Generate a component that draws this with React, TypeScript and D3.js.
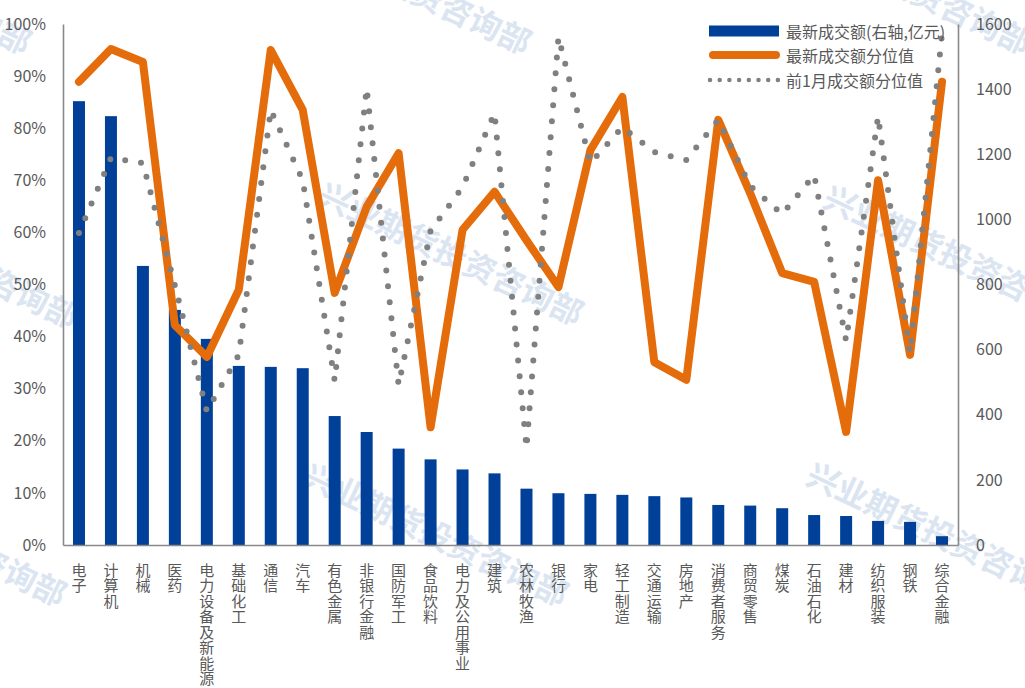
import { useRef, useEffect } from "react";
import * as d3 from "d3";

// 行业成交额数据
const categories = [
  "电子", "计算机", "机械", "医药", "电力设备及新能源", "基础化工", "通信", "汽车",
  "有色金属", "非银行金融", "国防军工", "食品饮料", "电力及公用事业", "建筑", "农林牧渔",
  "银行", "家电", "轻工制造", "交通运输", "房地产", "消费者服务", "商贸零售", "煤炭",
  "石油石化", "建材", "纺织服装", "钢铁", "综合金融",
];
// 最新成交额 (亿元, right axis)
const turnover = [
  1363, 1317, 857, 722, 633, 550, 547, 543, 396, 347, 296, 263, 232, 220, 173,
  159, 157, 154, 150, 146, 123, 121, 113, 92, 89, 74, 71, 27,
];
// 最新成交额分位值 (%)
const percentile = [
  88.9, 95.2, 92.7, 42.2, 36.1, 49.0, 95.0, 83.5, 48.4, 64.9, 75.2, 22.6, 60.5, 67.8,
  58.5, 49.5, 75.8, 86.0, 35.1, 31.7, 81.6, 67.5, 52.2, 50.5, 21.7, 70.0, 36.5, 88.9,
];
// 前1月成交额分位值 (%)
const prevPercentile = [
  59.9, 74.3, 73.3, 49.8, 25.7, 36.5, 83.5, 70.0, 31.5, 87.7, 30.7, 60.3, 68.7, 82.9,
  18.6, 97.5, 73.3, 80.2, 75.4, 73.9, 81.6, 68.9, 63.5, 71.0, 39.2, 82.3, 36.9, 98.3,
];
const leftTicks = [0, 10, 20, 30, 40, 50, 60, 70, 80, 90, 100];
const rightTicks = [0, 200, 400, 600, 800, 1000, 1200, 1400, 1600];
const legendLabels = ["最新成交额(右轴,亿元)", "最新成交额分位值", "前1月成交额分位值"];
const watermarkText = "兴业期货投资咨询部";

const WIDTH = 1025;
const HEIGHT = 688;
const PLOT = { left: 63, right: 958, top: 24, bottom: 545 };
const BAR_W = 12;
const FONT = "'Microsoft YaHei', 'Noto Sans CJK SC', 'Noto Sans', sans-serif";
const TEXT_COLOR = "#595959";
const AXIS_COLOR = "#898989";
const BLUE = "#004098";
const ORANGE = "#E46C0A";
const GREY = "#808080";

// watermark centres, tiled across the page
const WATERMARKS: [number, number][] = [
  [-100, -19], [400, -19], [900, -19],
  [-53, 255], [452, 252], [957, 255],
  [-65, 533], [437, 533], [940, 532],
];

export default function App() {
  const svgRef = useRef<SVGSVGElement>(null);

  useEffect(() => {
    const svg = d3.select(svgRef.current);
    svg.selectAll("*").remove();

    const x = d3.scaleBand<string>().domain(categories).range([PLOT.left, PLOT.right]);
    const bw = x.bandwidth();
    const cx = (i: number) => (x(categories[i]) as number) + bw / 2;
    const yL = d3.scaleLinear().domain([0, 100]).range([PLOT.bottom, PLOT.top]);
    const yR = d3.scaleLinear().domain([0, 1600]).range([PLOT.bottom, PLOT.top]);

    // Watermarks
    const wm = svg.append("g");
    for (const [wx, wy] of WATERMARKS) {
      wm.append("text")
        .attr("transform", `translate(${wx},${wy}) rotate(25.4)`)
        .attr("text-anchor", "middle")
        .attr("dominant-baseline", "central")
        .attr("font-family", FONT)
        .attr("font-size", 32)
        .attr("font-weight", "bold")
        .attr("fill", "#dbe5f2")
        .text(watermarkText);
    }

    // Bars
    svg.append("g")
      .selectAll("rect")
      .data(turnover)
      .join("rect")
      .attr("x", (_, i) => cx(i) - BAR_W / 2)
      .attr("width", BAR_W)
      .attr("y", (d) => yR(d))
      .attr("height", (d) => PLOT.bottom - yR(d))
      .attr("fill", BLUE);

    // Axes
    const styleAxis = (a: d3.Selection<SVGGElement, unknown, null, undefined>) => {
      a.select(".domain").attr("stroke", AXIS_COLOR).attr("stroke-width", 1.6);
      a.selectAll("text")
        .attr("fill", TEXT_COLOR)
        .attr("font-size", "16px")
        .attr("font-family", FONT);
    };

    svg.append("g")
      .attr("transform", `translate(${PLOT.left},0)`)
      .call(d3.axisLeft(yL).tickValues(leftTicks).tickSize(0).tickPadding(17).tickFormat((d) => `${d}%`))
      .call(styleAxis);

    svg.append("g")
      .attr("transform", `translate(${PLOT.right},0)`)
      .call(d3.axisRight(yR).tickValues(rightTicks).tickSize(0).tickPadding(18).tickFormat((d) => `${d}`))
      .call(styleAxis);

    svg.append("g")
      .attr("transform", `translate(0,${PLOT.bottom})`)
      .call(d3.axisBottom(x).tickSize(0).tickFormat(() => ""))
      .call(styleAxis);

    // Category labels, stacked vertically one char per line
    const labels = svg.append("g")
      .attr("font-family", FONT)
      .attr("font-size", 15)
      .attr("fill", TEXT_COLOR)
      .attr("text-anchor", "middle");
    categories.forEach((c, i) => {
      const t = labels.append("text");
      Array.from(c).forEach((ch, j) => {
        t.append("tspan")
          .attr("x", cx(i))
          .attr("y", 569 + j * 15.5)
          .attr("dominant-baseline", "central")
          .text(ch);
      });
    });

    // Lines
    const line = d3.line<number>()
      .x((_, i) => cx(i))
      .y((d) => yL(d));

    svg.append("path")
      .datum(percentile)
      .attr("fill", "none")
      .attr("stroke", ORANGE)
      .attr("stroke-width", 8)
      .attr("stroke-linejoin", "round")
      .attr("stroke-linecap", "round")
      .attr("d", line);

    svg.append("path")
      .datum(prevPercentile)
      .attr("fill", "none")
      .attr("stroke", GREY)
      .attr("stroke-width", 6)
      .attr("stroke-linecap", "round")
      .attr("stroke-dasharray", "0 16")
      .attr("d", line);

    // Legend
    const lg = svg.append("g").attr("font-family", FONT).attr("font-size", 16).attr("fill", TEXT_COLOR);
    const rows = [31, 55, 80];
    lg.append("rect").attr("x", 709).attr("y", rows[0] - 5.5).attr("width", 70).attr("height", 11).attr("fill", BLUE);
    lg.append("line")
      .attr("x1", 713).attr("x2", 776).attr("y1", rows[1]).attr("y2", rows[1])
      .attr("stroke", ORANGE).attr("stroke-width", 8).attr("stroke-linecap", "round");
    lg.append("line")
      .attr("x1", 710).attr("x2", 778).attr("y1", rows[2]).attr("y2", rows[2])
      .attr("stroke", GREY).attr("stroke-width", 4.5).attr("stroke-linecap", "round")
      .attr("stroke-dasharray", "0 9.7");
    legendLabels.forEach((l, i) => {
      lg.append("text")
        .attr("x", 786)
        .attr("y", rows[i])
        .attr("dominant-baseline", "central")
        .text(l);
    });
  }, []);

  return (
    <svg
      ref={svgRef}
      width={WIDTH}
      height={HEIGHT}
      viewBox={`0 0 ${WIDTH} ${HEIGHT}`}
      style={{ position: "absolute", left: 0, top: 0, display: "block", background: "#fff" }}
    />
  );
}
